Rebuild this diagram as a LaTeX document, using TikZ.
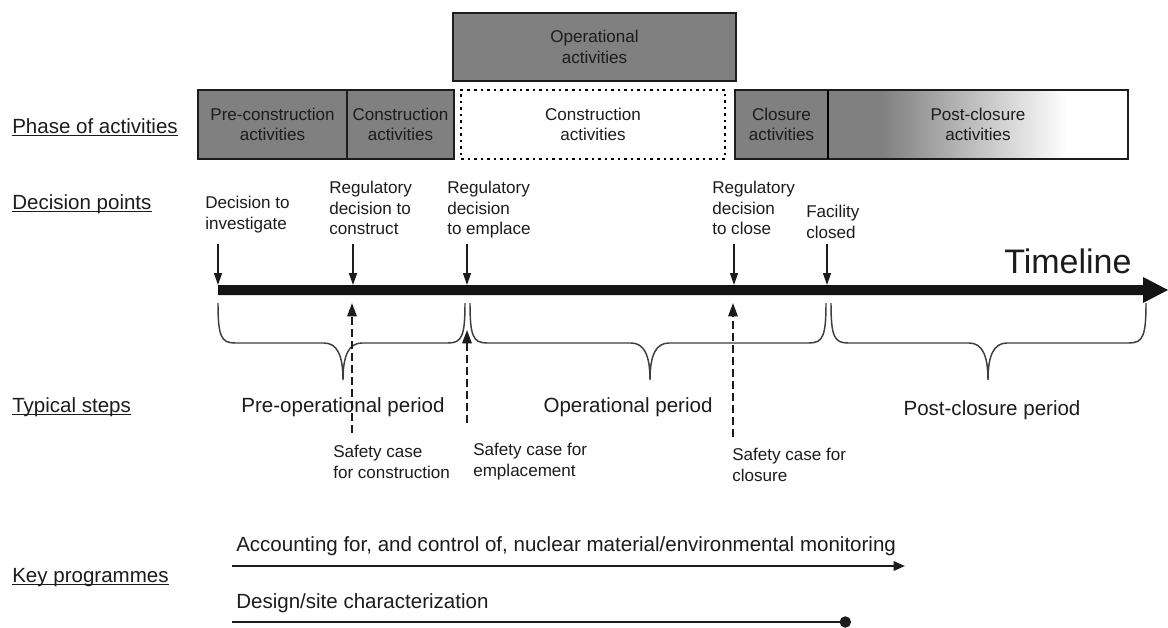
\documentclass[tikz,border=0pt]{standalone}
\usepackage{fontspec}
\setmainfont{Liberation Sans}
\usetikzlibrary{arrows.meta,calc}
\definecolor{boxgray}{RGB}{128,128,128}
\definecolor{ink}{RGB}{28,28,28}
\newcommand\myul[1]{\setbox0\hbox{#1}\rlap{\rule[-2.4pt]{\wd0}{0.9pt}}\box0}
\newcommand\mybrace[3]{%
  \draw[bracestyle] (#1,303) .. controls (#1,336) and (#1+3,343) .. (#1+17,343)
    -- (#3-19,343) .. controls (#3-6,343) and (#3,355) .. (#3,380)
    .. controls (#3,355) and (#3+6,343) .. (#3+19,343)
    -- (#2-17,343) .. controls (#2-3,343) and (#2,336) .. (#2,303);}
\begin{document}
\begin{tikzpicture}[x=0.75pt,y=-0.75pt,
  bigtext/.style={font=\fontsize{15.4}{18.5}\selectfont, text=ink, inner sep=0pt},
  smalltext/.style={font=\fontsize{12.8}{15.5}\selectfont, text=ink, inner sep=0pt, align=left},
  phasebox/.style={draw=ink, line width=1.1pt, fill=boxgray, inner sep=0pt, outer sep=0pt,
     align=center, font=\fontsize{12.8}{15.5}\selectfont, text=ink},
  dotbox/.style={draw=black, line width=1.9pt, dash pattern=on 1.9pt off 3pt, inner sep=0pt,
     outer sep=0pt, align=center, font=\fontsize{12.8}{15.5}\selectfont, text=ink},
  decarrow/.style={draw=ink, line width=1.1pt, -{Triangle[length=9pt,width=6pt]}},
  safearrow/.style={draw=ink, line width=1.5pt, dash pattern=on 6pt off 3pt, -{Triangle[length=10pt,width=7pt]}},
  bracestyle/.style={draw=ink!85, line width=1.1pt},
  progline/.style={draw=ink, line width=1.5pt}
]
\useasboundingbox[fill=white] (0,0) rectangle (1168,628);

% ---- left labels
\node[bigtext, anchor=base west] (lphase) at (12,133) {\myul{Phase of activities}};
\node[bigtext, anchor=base west] (ldec) at (12,209) {\myul{Decision points}};
\node[bigtext, anchor=base west] (lsteps) at (12,412) {\myul{Typical steps}};
\node[bigtext, anchor=base west] (lkey) at (12,582) {\myul{Key programmes}};

% ---- phase boxes
\node[phasebox, minimum width=212.25pt, minimum height=51pt] (ops) at (594.5,47) {Operational\\activities};
\node[phasebox, minimum width=111.75pt, minimum height=51.75pt] (pre) at (272.5,124.5) {Pre-construction\\activities};
\node[phasebox, minimum width=80.25pt, minimum height=51.75pt] (con) at (400.5,124.5) {Construction\\activities};
\node[dotbox, minimum width=198pt, minimum height=51.75pt] (con2) at (593,124.5) {Construction\\activities};
\node[phasebox, minimum width=69.75pt, minimum height=51.75pt] (clo) at (781.5,124.5) {Closure\\activities};
\fill[boxgray] (828,90) rectangle (882,159);
\shade[left color=boxgray, right color=white] (882,90) rectangle (1068,159);
\node[draw=ink, line width=1.1pt, inner sep=0pt, outer sep=0pt, align=center,
  font=\fontsize{12.8}{15.5}\selectfont, text=ink,
  minimum width=225pt, minimum height=51.75pt] (post) at (978,124.5) {Post-closure\\activities};
\draw[black, line width=1.6pt] (clo.north east) -- (clo.south east);

% ---- timeline
\coordinate (tl0) at (218,290);
\coordinate (tlh) at (1143,290);
\coordinate (tl1) at (1168,290);
\fill[black!92] ($(tl0)+(0,-5)$) -- ($(tlh)+(0,-5)$) -- ($(tlh)+(0,-13)$) -- (tl1)
   -- ($(tlh)+(0,13)$) -- ($(tlh)+(0,5)$) -- ($(tl0)+(0,5)$) -- cycle;
\node[font=\fontsize{25.5}{30}\selectfont, text=ink, inner sep=0pt, anchor=base west] (tlabel) at (1004,273) {Timeline};

% ---- decision points
\node[smalltext, anchor=north west] (d1) at (205,196) {Decision to\\investigate};
\node[smalltext, anchor=north west] (d2) at (329,181) {Regulatory\\decision to\\construct};
\node[smalltext, anchor=north west] (d3) at (447,181) {Regulatory\\decision\\to emplace};
\node[smalltext, anchor=north west] (d4) at (712,181) {Regulatory\\decision\\to close};
\node[smalltext, anchor=north west] (d5) at (806,205) {Facility\\closed};

\foreach \n/\x in {1/218,2/353,3/467,4/734,5/827}{
  \coordinate (da\n) at (\x,244);
  \coordinate (db\n) at (\x,285);
  \draw[decarrow] (da\n) -- (db\n);
}

% ---- braces
\mybrace{218}{465}{343}
\mybrace{470}{826}{650}
\mybrace{831}{1146}{988}

% ---- periods
\node[bigtext, anchor=base] (p1) at (343,412) {Pre-operational period};
\node[bigtext, anchor=base] (p2) at (628,412) {Operational period};
\node[bigtext, anchor=base] (p3) at (992,415) {Post-closure period};

% ---- safety cases
\coordinate (sa1) at (352,433);
\coordinate (sb1) at (352,303);
\coordinate (sa2) at (467,423);
\coordinate (sb2) at (467,330);
\coordinate (sa3) at (733,437);
\coordinate (sb3) at (733,303);
\draw[safearrow] (sa1) -- (sb1);
\draw[safearrow] (sa2) -- (sb2);
\draw[safearrow] (sa3) -- (sb3);
\node[smalltext, anchor=north west] (s1) at (333,445) {Safety case\\for construction};
\node[smalltext, anchor=north west] (s2) at (473,443) {Safety case for\\emplacement};
\node[smalltext, anchor=north west] (s3) at (732,448) {Safety case for\\closure};

% ---- key programmes
\node[bigtext, anchor=base west] (k1) at (236,551) {Accounting for, and control of, nuclear material/environmental monitoring};
\node[bigtext, anchor=base west] (k2) at (236,608) {Design/site characterization};
\coordinate (k1a) at (232,566);
\coordinate (k1b) at (905,566);
\coordinate (k2a) at (232,622);
\coordinate (k2b) at (851,622);
\draw[progline, -{Triangle[length=8.5pt,width=7pt]}] (k1a) -- (k1b);
\draw[progline, -{Circle[length=8.5pt]}] (k2a) -- (k2b);
\end{tikzpicture}
\end{document}
